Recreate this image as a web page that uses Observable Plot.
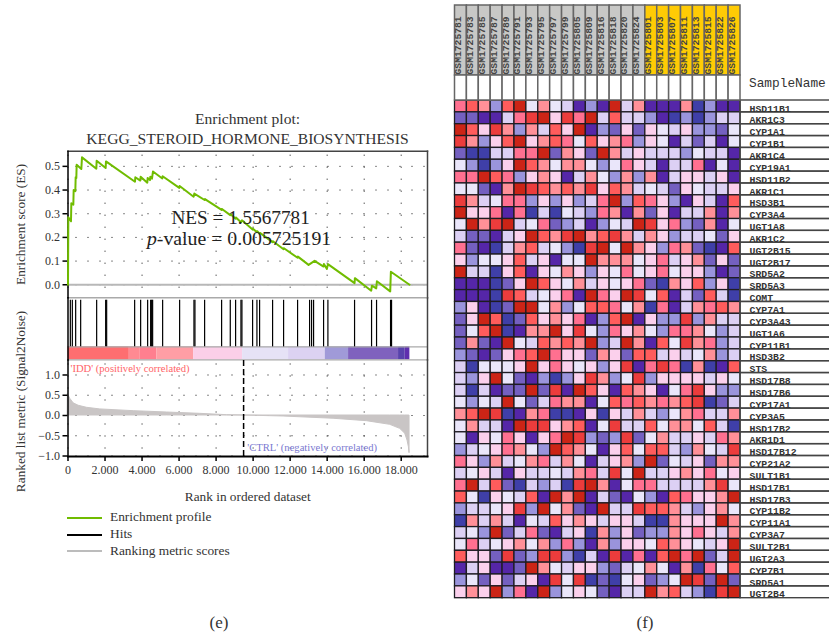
<!DOCTYPE html>
<html><head><meta charset="utf-8">
<script src="https://cdn.jsdelivr.net/npm/d3@7"></script>
<script src="https://cdn.jsdelivr.net/npm/@observablehq/plot@0.6"></script>
<style>
html,body{margin:0;padding:0;background:#fff}
#page{position:relative;width:829px;height:639px;overflow:hidden;background:#fff}
#page svg{position:absolute;left:0;top:0;background:transparent}
.t{position:absolute;white-space:nowrap;font-family:"Liberation Serif",serif;color:#333;line-height:1}
.l{position:absolute;height:2px}
</style></head><body><div id="page"></div>
<script>
const esRank=[0,18,162,180,288,306,396,414,450,468,720,756,1530,1548,2034,2052,3618,3636,3906,3924,4284,4302,4428,4446,4536,4590,5094,5112,6012,6030,6786,6822,7380,7398,8298,8316,8766,8784,9054,9072,9342,9396,9972,9990,10206,10224,10350,10368,11052,11070,11646,11664,12402,12420,12996,13320,13806,13824,13986,14040,15480,15498,16380,16416,16650,16686,17406,17442,18450];
const esScore=[0,.285,.268,.344,.338,.4,.395,.454,.451,.507,.489,.538,.49,.524,.493,.521,.435,.454,.44,.456,.431,.451,.442,.456,.448,.478,.449,.458,.409,.417,.372,.385,.358,.362,.316,.32,.294,.298,.279,.284,.264,.272,.233,.237,.222,.226,.215,.219,.18,.184,.15,.154,.114,.119,.084,.101,.077,.088,.067,.087,.007,.028,-.025,-.004,-.015,.015,-.028,.055,0];
const hitRanks=[126,234,414,684,1548,2034,2088,3600,3924,4302,4464,4518,4572,5112,6030,6804,6858,7380,8298,8766,9054,9342,9396,9972,10206,10350,11052,11646,12402,13050,13158,13266,13806,14040,15480,16398,16668,17424,17478];
const barEdges=[0,3312,3906,4806,6786,9432,11916,13896,15156,17856,18216,18468];
const barColors=["#fe6e70","#ff8a92","#ff7f8f","#ff9ea5","#fbcfe8","#e6e2f6","#dcd2f2","#a09ad8","#7f62be","#5842ac","#5f2fae"];
const metricRank=[0,126,306,576,1026,1746,3546,5346,7146,8586,9486,11646,14346,16146,17406,17946,18216,18342,18414,18450];
const metricValue=[.52,.41,.3,.24,.19,.15,.107,.074,.041,.008,0,-.025,-.08,-.14,-.23,-.33,-.45,-.62,-.78,-.93];
const xTicks=[0,2000,4000,6000,8000,10000,12000,14000,16000,18000];
const esTicks=[0,.1,.2,.3,.4,.5];
const metricTicks=[-1,-.5,0,.5,1];
const samples=["GSM1725781","GSM1725783","GSM1725785","GSM1725787","GSM1725789","GSM1725791","GSM1725793","GSM1725795","GSM1725797","GSM1725799","GSM1725805","GSM1725809","GSM1725816","GSM1725818","GSM1725820","GSM1725824","GSM1725801","GSM1725803","GSM1725807","GSM1725811","GSM1725813","GSM1725815","GSM1725822","GSM1725826"];
const greyCount=16;
const genes=["HSD11B1","AKR1C3","CYP1A1","CYP1B1","AKR1C4","CYP19A1","HSD11B2","AKR1C1","HSD3B1","CYP3A4","UGT1A8","AKR1C2","UGT2B15","UGT2B17","SRD5A2","SRD5A3","COMT","CYP7A1","CYP3A43","UGT1A6","CYP11B1","HSD3B2","STS","HSD17B8","HSD17B6","CYP17A1","CYP3A5","HSD17B2","AKR1D1","HSD17B12","CYP21A2","SULT1B1","HSD17B1","HSD17B3","CYP11B2","CYP11A1","CYP3A7","SULT2B1","UGT2A3","CYP7B1","SRD5A1","UGT2B4"];
const levels={B:"#3f3fa8",P:"#5526a8",M:"#7460c0",L:"#9a94dc",V:"#dcd0f4",W:"#eae6fa",K:"#fbd0ec",S:"#ff9098",F:"#ff7090",R:"#ff5c5c",O:"#ec3c3c",D:"#cc2416"};
const heat=["FRSLRDWSWVPLPDVSPPPSBLPP","MMPPVFODKOFDVRVVLPBLBLVV","DRKOSLSVRKDPLMKMKWVKLLMW","OSLKRDKSRFWRKSFLKWPVMVPW","MBBVVFFDMSKMDSVKVVVLWVVP","WLBLKDRSWSSWLWFKVPVVFPWP","FFDRFLKSKPVSWLSLSPVKKVKP","WWMPSDORSRSOKRSVWVMKWVVK","OSVWFFLKLKLVFDLRFKLPKVPR","DKKFPFBVBWVLFSPSMKPVVSPS","WDSODVWFMLVPLWVDOKFLMSPW","VMMPVKDRSODSROSVSKLVVWMK","FMPBVSRVWLBODWDSKLFSMBPR","KLWWKRVKPWWDSSSWKFVKSMKM","DVVBKRPKWSKLKWFWKFWKKLPM","PPPBMKDRKWSVKWKFMBSKRLKB","PPPBORVWKFPDFKDOWRPVMRVB","LKPBMDDWSLWRRFWSBFPVSFRS","MKDRBMRKSKFPLRDPKLLOLSVV","MWRDBPSSDKOWLFKSWLFFSWLV","MSMPDWVRSRSDLVDSPRWOSFLV","LMPMKFRDFKKMSKMRRVKVWSLV","VBWWWKDKFKWKLKOPFOFBSBPR","VLKDWMPLBLKOSLWOLKKKKVKW","VBVPMMDMOPDRKPRSKPWFOKLL","WLWVDWMVFSSPWRFRSFSROBMV","SRDOBPSFBBPKBKVSVLWSFVVS","WSVVPDOOKSRPWOVVRWSSWRVB","WPKWFKPKFDOLMLOMWSVVKVFS","LVWKFSWLDRSWPKRWRRVLSWVO","FKLSVWSFVSWPVKSLDMWVKMSS","VWKVPKVVWVSFVOWDVVKSKFWK","FDVRMBVLVBODSPWFFVVVVSOW","RWBKWVRPDSDPVMPWLPRFKKSD","LVVWKOLDWSMPDVVORRSVLKSW","BSVSVPWVRKSKVKKVBBSKKKDS","VWLDMVFMPVKBSLKMLLSKFKVS","WFVWKSWSLFLPSLKKWRSKWVKD","RKKMOMLOOLBVPOPFPRDFDMVD","PVKPPMDSWVKKLMVWSWPSBFWR","LWMKMVKPOWOBMBWKMLWDOMDM","KSKDLFPDLWKWMPVVDSRVLBOD"];

const page=document.getElementById("page");
const W=829,H=639,serif='"Liberation Serif",serif',mono='"Liberation Mono",monospace';
const rankX={domain:[0,19420],axis:null};
const fmtRank=d=>d===0?"0":d3.format(",")(d).replace(",",".");
const dotted=(ys)=>[
  Plot.ruleX(xTicks,{stroke:"#111",strokeWidth:1,strokeDasharray:"1,11",strokeDashoffset:-4}),
  Plot.ruleY(ys,{stroke:"#111",strokeWidth:1,strokeDasharray:"1,11",strokeDashoffset:-8})
];
const base={width:W,height:H,marginLeft:67.5,marginRight:402,style:{fontFamily:serif,fontSize:"13.3px",color:"#333",background:"transparent"}};
const yAxis=(ticks)=>Plot.axisY(ticks,{tickFormat:d3.format(".1f"),tickSize:5,tickPadding:3,stroke:"#000",strokeWidth:1.5,label:null,fill:"#333",fontSize:12});

// Enrichment score panel
page.append(Plot.plot({...base,marginTop:150.7,marginBottom:H-297.3,x:rankX,
  y:{domain:[-.055,.564],axis:null},
  marks:[
    ...dotted(esTicks),
    Plot.ruleY([0],{stroke:"#b8b8b8",strokeWidth:2}),
    Plot.frame({anchor:"top",stroke:"#444",strokeWidth:1.5}),
    Plot.frame({anchor:"right",stroke:"#444",strokeWidth:1.5}),
    Plot.frame({anchor:"bottom",stroke:"#aaa",strokeWidth:1.5}),
    Plot.frame({anchor:"left",stroke:"#000",strokeWidth:1.5}),
    yAxis(esTicks),
    Plot.text(["Enrichment score (ES)"],{frameAnchor:"left",dx:-47,y:.255,rotate:-90,textAnchor:"middle",fill:"#333"}),
    Plot.line(esRank,{x:d=>d,y:(d,i)=>esScore[i],stroke:"#70bc00",strokeWidth:2,curve:"linear"}),
    Plot.text(["NES = 1.5567781"],{x:9325,y:.284,fontSize:19.2,fill:"#222"}),
    Plot.text(["p"],{x:4800,y:.195,fontSize:19.8,fontStyle:"italic",textAnchor:"end",fill:"#222"}),
    Plot.text(["-value = 0.005725191"],{x:4800,y:.195,fontSize:19.8,textAnchor:"start",fill:"#222"})
  ]}));

// Hits and colour band
page.append(Plot.plot({...base,marginTop:297.3,marginBottom:H-359.4,x:rankX,
  y:{domain:[0,1],axis:null},
  marks:[
    Plot.rect(barColors,{x1:(d,i)=>barEdges[i],x2:(d,i)=>barEdges[i+1],y1:0,y2:.21,fill:d=>d}),
    Plot.ruleY([0,.21],{stroke:"#aaa",strokeWidth:1.2}),
    Plot.ruleX(hitRanks,{y1:.21,y2:.96,stroke:"#000",strokeWidth:1.2}),
    Plot.frame({anchor:"right",stroke:"#444",strokeWidth:1.5}),
    Plot.frame({anchor:"left",stroke:"#000",strokeWidth:1.5})
  ]}));

// Ranked list metric
page.append(Plot.plot({...base,marginTop:359.5,marginBottom:H-456,
  x:{domain:[0,19420]},y:{domain:[-1.012,1.37],axis:null},
  marks:[
    ...dotted(metricTicks),
    Plot.areaY(metricRank,{x:d=>d,y:(d,i)=>metricValue[i],fill:"#c9c5c5",stroke:"#c9c5c5",strokeWidth:1,curve:"linear"}),
    Plot.ruleX([9486],{y1:-1.012,y2:1.37,stroke:"#000",strokeWidth:1.5,strokeDasharray:"6,3"}),
    Plot.frame({anchor:"right",stroke:"#444",strokeWidth:1.5}),
    Plot.frame({anchor:"left",stroke:"#000",strokeWidth:1.5}),
    Plot.frame({anchor:"bottom",stroke:"#000",strokeWidth:2}),
    yAxis(metricTicks),
    Plot.text(["Ranked list metric (Signal2Noise)"],{frameAnchor:"left",dx:-47,y:.346,rotate:-90,textAnchor:"middle",fill:"#333"}),
    Plot.axisX(xTicks,{tickFormat:fmtRank,tickSize:5,tickPadding:4,stroke:"#000",strokeWidth:1.5,label:null,fill:"#333",fontSize:12}),
    Plot.text(["Rank in ordered dataset"],{frameAnchor:"bottom",dy:44,fill:"#333"}),
    Plot.text(["'IDD' (positively correlated)"],{x:135,y:1.168,textAnchor:"start",fill:"#ff6468",fontSize:10.6}),
    Plot.text(["'CTRL' (negatively correlated)"],{x:9686,y:-.783,textAnchor:"start",fill:"#7a78d0",fontSize:10.6})
  ]}));

// Heat map body
const cells=heat.flatMap((row,r)=>samples.map((s,c)=>({gene:genes[r],sample:s,code:row[c]})));
const hmStyle={fontFamily:mono,background:"transparent"};
const sx={domain:samples,axis:null,padding:0,round:false};
const sy={domain:genes,axis:null,padding:0,round:false};
page.append(Plot.plot({width:W,height:H,marginLeft:454.5,marginRight:89,marginTop:100,marginBottom:H-597.7,style:hmStyle,
  x:sx,y:sy,
  marks:[Plot.cell(cells,{x:"sample",y:"gene",fill:d=>levels[d.code],stroke:"#1e1c22",strokeWidth:1.3})]}));

// Gene labels with their row lines
page.append(Plot.plot({width:W,height:H,marginLeft:740,marginRight:-4,marginTop:100,marginBottom:H-597.7,style:hmStyle,
  y:sy,
  marks:[
    Plot.cell(genes,{y:d=>d,fill:"none",stroke:"#444",strokeWidth:1.4}),
    Plot.text(genes,{y:d=>d,frameAnchor:"left",dx:9,dy:2,text:d=>d,textAnchor:"start",fontSize:9.8,fontWeight:"bold",fill:"#333"})
  ]}));

// Column headers
page.append(Plot.plot({width:W,height:H,marginLeft:454.5,marginRight:89,marginTop:5,marginBottom:H-75,style:hmStyle,
  x:sx,y:{axis:null},
  marks:[
    Plot.cell(samples,{x:d=>d,fill:(d,i)=>i<greyCount?"#c8c8c6":"#ffcb05",stroke:"#666",strokeWidth:1.5}),
    Plot.text(samples,{x:d=>d,frameAnchor:"bottom",dy:-1,rotate:-90,textAnchor:"start",text:d=>d,fontSize:9.7,fontWeight:"bold",fill:"#444"})
  ]}));
page.append(Plot.plot({width:W,height:H,marginLeft:454.5,marginRight:89,marginTop:75,marginBottom:H-100,style:hmStyle,
  x:sx,y:{axis:null},
  marks:[Plot.cell(samples,{x:d=>d,fill:"#fff",stroke:"#666",strokeWidth:1.5})]}));

// Titles, legend, captions
const addText=(s,x,y,size,opt={})=>{const e=document.createElement("div");e.className="t";e.textContent=s;
  e.style.left=x+"px";e.style.top=y+"px";e.style.fontSize=size+"px";
  e.style.transform=`translate(${opt.center?"-50%":"0"},-50%)`;
  if(opt.font)e.style.fontFamily=opt.font;page.append(e);};
addText("Enrichment plot:",247.5,119,15.6,{center:true});
addText("KEGG_STEROID_HORMONE_BIOSYNTHESIS",247.5,139,15.6,{center:true});
[["Enrichment profile","#70bc00",517.5],["Hits","#000",534.5],["Ranking metric scores","#bcbcbc",551]].forEach(([s,c,y])=>{
  const l=document.createElement("div");l.className="l";l.style.cssText=`left:67px;width:35px;top:${y-1}px;background:${c}`;page.append(l);
  addText(s,110,y-0.5,13.4);
});
addText("(e)",219,622,17,{center:true});
addText("(f)",645,622,17,{center:true});
addText("SampleName",749,84,12.8,{font:mono});
</script></body></html>
